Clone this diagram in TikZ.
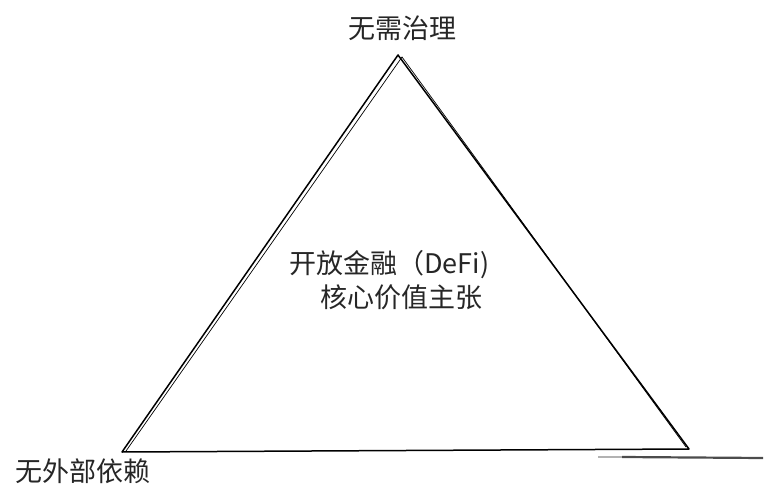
\documentclass[tikz,border=0pt]{standalone}
\usepackage{fontspec}
\newfontfamily\cjk{Noto Sans CJK SC}
\begin{document}
\begin{tikzpicture}[x=1pt,y=-1pt,
  lbl/.style={font=\cjk\fontsize{27}{30}\selectfont, inner sep=0pt, text=black!85},
  edge/.style={draw=black, line width=1.5pt, line join=round, line cap=round},
  sketch/.style={draw=black, line width=0.7pt, line cap=round}]
\useasboundingbox (0,0) rectangle (775,502);
\coordinate (A) at (398,55);
\coordinate (B) at (122,452);
\coordinate (C) at (689,449);
\draw[edge] (A) -- (B) -- (C) -- cycle;
\coordinate (A2) at (402,57);
\coordinate (B2) at (126,451);
\coordinate (C2) at (686,447);
\draw[sketch] (A2) -- (B2);
\draw[sketch] (A2) -- (C2);
\coordinate (G1) at (598,457);
\coordinate (G2) at (622,457);
\coordinate (G3) at (763,458);
\draw[gray!60, line width=1.4pt] (G1) -- (G2);
\draw[black!70, line width=2.2pt] (G2) -- (G3);
\node[lbl] (top) at (402,28) {无需治理};
\node[lbl] (left) at (83,471) {无外部依赖};
\node[lbl, anchor=west] (c1) at (289,265) {开放金融（DeFi)};
\node[lbl] (c2) at (401,297) {核心价值主张};
\end{tikzpicture}
\end{document}
